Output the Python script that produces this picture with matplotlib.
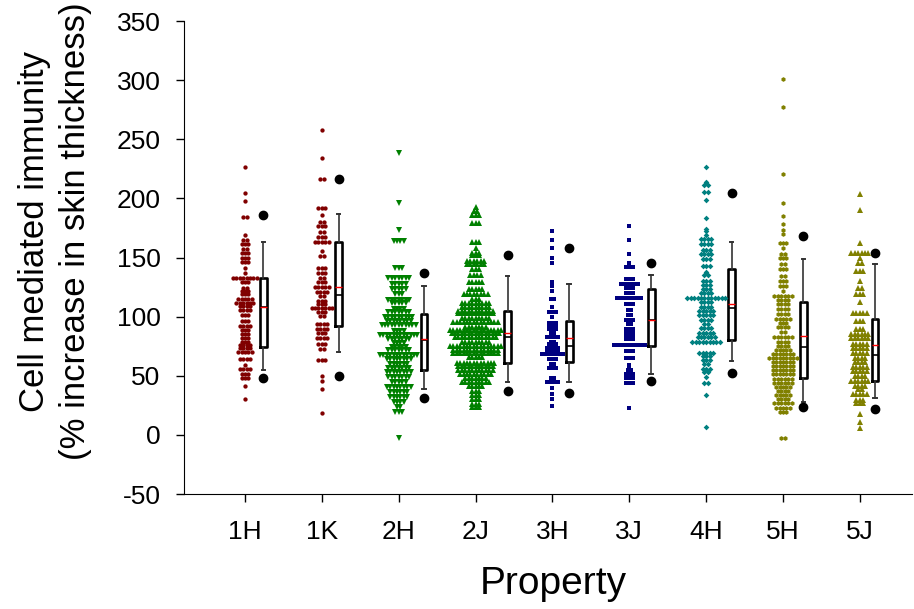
import numpy as np
import matplotlib.pyplot as plt

plt.rcParams["font.family"] = ["Liberation Sans", "DejaVu Sans"]
plt.rcParams["axes.unicode_minus"] = False

groups = ["1H", "1K", "2H", "2J", "3H", "3J", "4H", "5H", "5J"]
colors = ["#800000", "#800000", "#008000", "#008000", "#000080",
          "#000080", "#008080", "#808000", "#808000"]
markers = ["o", "o", "v", "^", "s", "s", "D", "h", "^"]
marker_sizes = [3.1, 3.1, 3.9, 3.9, 3.0, 2.8, 2.9, 3.4, 3.9]

# swarm rows: value of each row, and how many points sit on it
h1_vals = [226.6, 204.8, 197.5, 184.3, 168.8, 164.8, 161.2, 157.2, 153.8, 149.9,
           146.0, 141.4, 136.9, 133.0, 129.6, 124.2, 122.0, 118.9, 115.2, 111.8,
           109.3, 105.6, 101.1, 96.6, 92.3, 88.7, 85.1, 81.9, 78.8, 76.0,
           73.7, 69.8, 64.2, 59.1, 56.0, 51.2, 48.4, 41.6, 30.4]
h1_counts = [1, 1, 1, 2, 1, 2, 3, 2, 3, 3, 3, 1, 1, 8, 3, 2, 3, 3, 5, 6,
             4, 4, 3, 3, 4, 3, 3, 3, 3, 4, 4, 5, 4, 1, 4, 3, 3, 1, 1]

k1_vals = [258.0, 234.5, 216.7, 192.2, 186.2, 180.0, 176.4, 171.6, 167.6, 163.4,
           155.3, 151.0, 140.9, 136.6, 133.0, 129.0, 124.8, 120.8, 117.2, 113.5,
           110.7, 107.6, 104.2, 100.3, 93.5, 89.6, 85.9, 81.9, 77.1, 72.4,
           63.3, 50.1, 45.3, 39.1, 18.3]
k1_counts = [1, 1, 2, 3, 1, 2, 3, 2, 3, 5, 1, 2, 3, 3, 2, 3, 5, 4, 2, 3,
             3, 7, 3, 2, 4, 4, 3, 4, 3, 2, 3, 1, 1, 1, 1]

h2_vals = [238.1, 196.4, 173.0, 163.7, 140.9, 133.0, 127.3, 123.1, 119.4, 114.1,
           111.3, 106.2, 103.7, 99.7, 96.3, 93.2, 87.9, 84.7, 81.4, 78.0,
           74.3, 71.5, 67.6, 63.9, 60.2, 56.8, 52.9, 48.7, 44.7, 40.8,
           36.5, 32.0, 28.1, 23.3, 19.1, -2.9]
h2_counts = [1, 1, 1, 4, 3, 7, 5, 5, 3, 7, 5, 4, 7, 9, 8, 11, 4, 12, 7, 4,
             5, 7, 12, 8, 6, 7, 8, 7, 5, 8, 6, 6, 4, 2, 3, 1]

j2_vals = [192.5, 189.3, 186.0, 178.9, 163.1, 158.3, 154.1, 152.1, 147.3, 144.3,
           140.3, 135.2, 129.3, 123.1, 118.9, 114.7, 111.8, 108.4, 104.8, 102.8,
           98.9, 95.2, 91.5, 89.0, 86.5, 82.5, 78.8, 75.2, 72.1, 69.3,
           65.9, 61.1, 58.3, 54.6, 51.5, 48.1, 44.5, 41.1, 37.4, 33.7,
           30.1, 26.4, 23.3]
j2_counts = [1, 2, 3, 3, 3, 1, 3, 3, 6, 6, 3, 4, 5, 5, 8, 3, 9, 9, 11, 11,
             9, 14, 7, 16, 15, 13, 9, 16, 14, 14, 5, 12, 11, 11, 10, 7, 9, 5, 3, 3,
             3, 3, 3]

h3_vals = [172.4, 164.5, 158.3, 149.9, 145.4, 129.0, 126.2, 121.7, 114.9, 108.2,
           103.7, 99.7, 94.4, 92.1, 89.3, 86.5, 83.0, 78.8, 77.1, 73.7,
           71.5, 68.4, 63.9, 60.0, 56.3, 48.4, 44.7, 39.4, 34.8, 30.6, 24.2]
h3_counts = [1, 1, 1, 1, 1, 1, 1, 1, 2, 1, 3, 1, 3, 3, 3, 2, 4, 2, 3, 4,
             4, 7, 3, 2, 3, 2, 4, 1, 1, 1, 1]

j3_vals = [176.7, 165.1, 153.2, 145.4, 142.3, 132.1, 127.9, 124.2, 120.3, 116.0,
           110.4, 105.6, 101.1, 96.9, 94.0, 89.8, 87.0, 83.9, 81.1, 76.3,
           70.7, 65.0, 59.4, 57.2, 54.9, 51.8, 48.1, 44.1, 22.5]
j3_counts = [1, 1, 1, 1, 3, 3, 6, 3, 3, 8, 3, 2, 2, 3, 2, 3, 3, 3, 3, 10,
             3, 3, 1, 1, 2, 3, 3, 3, 1]

h4_vals = [226.8, 213.6, 211.3, 205.2, 198.6, 183.2, 174.1, 172.2, 169.3, 165.9,
           161.2, 156.4, 152.7, 149.0, 143.1, 137.8, 134.9, 130.4, 127.0, 123.6,
           120.3, 116.0, 112.1, 108.4, 104.8, 101.1, 97.4, 93.8, 90.1, 86.4,
           82.8, 78.6, 69.5, 66.7, 63.3, 60.0, 56.0, 53.2, 48.7, 44.1,
           33.5, 6.9]
h4_counts = [1, 1, 2, 2, 1, 1, 1, 1, 1, 4, 4, 3, 4, 3, 3, 1, 2, 3, 3, 3,
             4, 12, 4, 4, 5, 5, 4, 2, 4, 5, 6, 9, 5, 3, 3, 2, 3, 2, 1, 2,
             1, 1]

h5_vals = [301.0, 277.6, 220.4, 196.4, 184.9, 178.4, 173.3, 170.2, 162.6, 157.8,
           153.0, 149.3, 144.5, 140.0, 134.1, 130.4, 126.2, 121.7, 117.7, 114.1,
           110.4, 106.2, 102.0, 98.3, 94.6, 91.0, 87.0, 82.5, 78.6, 74.9,
           72.1, 68.4, 64.8, 61.4, 58.3, 54.9, 51.5, 47.5, 43.6, 40.3,
           36.9, 33.5, 30.1, 26.7, 22.7, 19.4, -2.9]
h5_counts = [1, 1, 1, 1, 1, 1, 1, 1, 3, 1, 2, 3, 2, 3, 2, 3, 3, 1, 6, 4,
             4, 4, 4, 5, 3, 4, 2, 6, 4, 4, 5, 7, 9, 7, 7, 7, 7, 6, 6, 5,
             4, 5, 4, 6, 5, 3, 2]

j5_vals = [203.7, 190.2, 162.6, 154.1, 149.6, 145.1, 138.9, 129.9, 124.2, 119.4,
           112.4, 103.3, 96.1, 89.3, 85.3, 81.7, 76.9, 73.2, 69.3, 65.3,
           61.6, 57.7, 53.8, 49.6, 45.6, 41.4, 39.1, 34.8, 29.5, 26.7,
           17.4, 10.7, 5.6]
j5_counts = [1, 1, 1, 6, 1, 2, 3, 1, 2, 3, 1, 5, 3, 3, 6, 6, 5, 5, 5, 4,
             4, 5, 5, 4, 6, 4, 2, 5, 3, 3, 1, 1, 1]

swarm_vals = [h1_vals, k1_vals, h2_vals, j2_vals, h3_vals, j3_vals, h4_vals, h5_vals, j5_vals]
swarm_counts = [h1_counts, k1_counts, h2_counts, j2_counts, h3_counts, j3_counts,
                h4_counts, h5_counts, j5_counts]

# box plot: 10th/25th/50th/75th/90th percentiles, mean, and 5th/95th points
box_p10 = [55.2, 70.4, 38.8, 44.5, 44.5, 51.2, 62.7, 27.6, 31.2]
box_q1 = [74.3, 91.8, 54.5, 60.8, 61.9, 75.4, 80.0, 47.9, 45.6]
box_med = [108.5, 118.0, 80.3, 82.8, 75.2, 97.0, 107.6, 74.1, 67.8]
box_q3 = [133.0, 163.4, 102.5, 105.0, 96.6, 123.1, 140.5, 112.4, 97.8]
box_p90 = [163.5, 186.5, 125.9, 134.6, 127.9, 135.2, 163.1, 148.8, 144.8]
box_mean = [107.9, 125.0, 81.4, 86.2, 81.7, 97.4, 111.0, 83.6, 76.0]
box_p5 = [48.1, 49.8, 31.4, 36.9, 35.2, 45.8, 52.1, 23.6, 22.2]
box_p95 = [185.8, 216.1, 137.0, 152.1, 157.8, 145.6, 204.8, 168.0, 154.1]


def main():
    fig = plt.figure(figsize=(9.14, 6.09), dpi=100)
    ax = fig.add_axes([0.2013, 0.1888, 0.7967, 0.7767])

    step = 0.0445  # horizontal spacing of points within a row
    gap = 0.085  # space between the swarm and its box
    stats = []
    box_pos = []
    for i, name in enumerate(groups):
        center = i + 1
        xs, ys = [], []
        for v, n in zip(swarm_vals[i], swarm_counts[i]):
            xs.extend(center + (np.arange(n) - (n - 1) / 2) * step)
            ys.extend([v] * n)
        ax.plot(xs, ys, linestyle="none", marker=markers[i], color=colors[i],
                markersize=marker_sizes[i], markeredgewidth=0, zorder=3)
        widest = max(swarm_counts[i])
        box_pos.append(center + (widest - 1) / 2 * step + gap)
        stats.append({
            "label": name,
            "whislo": box_p10[i], "q1": box_q1[i], "med": box_med[i],
            "q3": box_q3[i], "whishi": box_p90[i], "mean": box_mean[i],
            "fliers": [box_p5[i], box_p95[i]],
        })

    ax.bxp(stats, positions=box_pos, widths=0.09, showmeans=True, meanline=True,
           manage_ticks=False,
           boxprops=dict(color="black", linewidth=1.9),
           whiskerprops=dict(color="#333333", linewidth=1.2),
           capprops=dict(color="#333333", linewidth=1.4),
           medianprops=dict(color="black", linewidth=1.2),
           meanprops=dict(color="red", linewidth=1.0, linestyle="-"),
           flierprops=dict(marker="o", markerfacecolor="black",
                           markeredgecolor="black", markersize=6))

    ax.set_xlim(0.207, 9.68)
    ax.set_ylim(-50, 350)
    ax.set_yticks(np.arange(-50, 351, 50))
    ax.set_xticks(np.arange(1, len(groups) + 1))
    ax.set_xticklabels(groups)
    ax.spines["top"].set_visible(False)
    ax.spines["right"].set_visible(False)
    ax.tick_params(axis="both", direction="out", length=6, width=1, labelsize=19)
    ax.tick_params(axis="x", pad=13)
    ax.tick_params(axis="y", pad=11)

    ax.set_xlabel("Property", fontsize=28)
    ax.xaxis.set_label_coords(0.507, -0.152)
    ax.set_ylabel("Cell mediated immunity\n(% increase in skin thickness)",
                  fontsize=25, linespacing=1.3)
    ax.yaxis.set_label_coords(-0.126, 0.555)

    plt.savefig("out.png", dpi=100)


if __name__ == "__main__":
    main()
